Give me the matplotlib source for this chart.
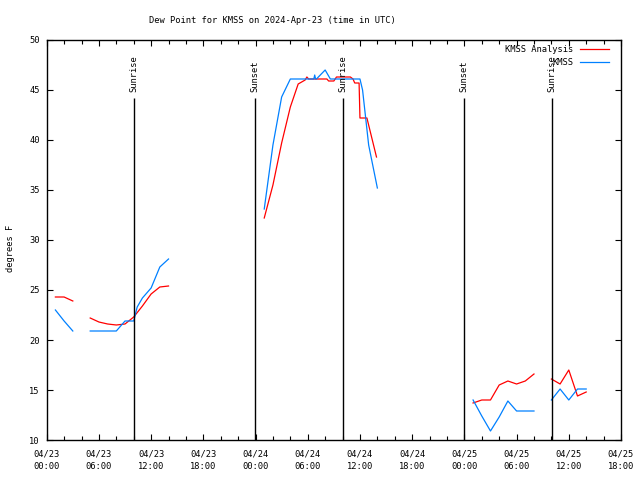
import matplotlib
matplotlib.use("Agg")
import matplotlib.pyplot as plt
from matplotlib.ticker import MultipleLocator

# hours since 2024-04-23 00:00 UTC
red1_t = [1, 2, 3]
red1_v = [24.3, 24.3, 23.9]
blue1_t = [1, 2, 3]
blue1_v = [23.0, 21.9, 20.9]

red2_t = [5, 6, 7, 8, 9, 10, 11, 12, 13, 14]
red2_v = [22.2, 21.8, 21.6, 21.5, 21.6, 22.3, 23.4, 24.6, 25.3, 25.4]
blue2_t = [5, 6, 7, 8, 9, 10, 10.4, 11, 12, 13, 14]
blue2_v = [20.9, 20.9, 20.9, 20.9, 21.9, 21.9, 23.3, 24.2, 25.2, 27.3, 28.1]

red3_t = [25, 26, 27, 28, 28.9, 29.7, 29.9, 30.1, 32.2, 32.4, 33.0, 33.3,
          34.9, 35.2, 35.4, 35.9, 36.0, 36.8, 37.9]
red3_v = [32.2, 35.5, 39.7, 43.3, 45.6, 46.0, 46.3, 46.1, 46.1, 45.9, 45.9, 46.3,
          46.3, 46.1, 45.7, 45.7, 42.2, 42.2, 38.3]
blue3_t = [25, 26, 27, 28, 29, 30, 30.7, 30.8, 30.9, 31, 32, 32.6,
           33, 34, 35, 36, 36.3, 37, 38]
blue3_v = [33.1, 39.5, 44.3, 46.1, 46.1, 46.1, 46.1, 46.5, 46.1, 46.1, 47.0, 46.1,
           46.1, 46.1, 46.1, 46.1, 45.0, 39.5, 35.2]

red4_t = [49, 50, 51, 52, 53, 54, 55, 56]
red4_v = [13.7, 14.0, 14.0, 15.5, 15.9, 15.6, 15.9, 16.6]
blue4_t = [49, 50, 51, 52, 53, 54, 55, 56]
blue4_v = [14.0, 12.4, 10.9, 12.3, 13.9, 12.9, 12.9, 12.9]

red5_t = [58, 59, 60, 61, 62]
red5_v = [16.1, 15.6, 17.0, 14.4, 14.8]
blue5_t = [58, 59, 60, 61, 62]
blue5_v = [14.0, 15.1, 14.0, 15.1, 15.1]

sun_t = [10.07, 23.93, 34.08, 47.9, 58.05]
sun_lbl = ["Sunrise", "Sunset", "Sunrise", "Sunset", "Sunrise"]

xtick_pos = [0, 6, 12, 18, 24, 30, 36, 42, 48, 54, 60, 66]
xtick_lbl = ["04/23\n00:00", "04/23\n06:00", "04/23\n12:00", "04/23\n18:00",
             "04/24\n00:00", "04/24\n06:00", "04/24\n12:00", "04/24\n18:00",
             "04/25\n00:00", "04/25\n06:00", "04/25\n12:00", "04/25\n18:00"]

plt.rcParams['font.family'] = ['DejaVu Sans Mono']
plt.rcParams['font.size'] = 6.3

fig = plt.figure(figsize=(6.4, 4.8), dpi=100)
ax = fig.add_axes([46.7 / 640, 40 / 480, 574.3 / 640, 400 / 480])

red = '#ff0000'
blue = '#0080ff'
lw = 0.9
ax.plot(red1_t, red1_v, color=red, lw=lw, label='KMSS Analysis')
ax.plot(blue1_t, blue1_v, color=blue, lw=lw, label='KMSS')
for t, v in [(red2_t, red2_v), (red3_t, red3_v), (red4_t, red4_v), (red5_t, red5_v)]:
    ax.plot(t, v, color=red, lw=lw)
for t, v in [(blue2_t, blue2_v), (blue3_t, blue3_v), (blue4_t, blue4_v), (blue5_t, blue5_v)]:
    ax.plot(t, v, color=blue, lw=lw)

ax.vlines(sun_t, 10, 44.2, color='black', lw=1)
for t, s in zip(sun_t, sun_lbl):
    ax.text(t, 44.8, s, rotation=90, ha='center', va='bottom')

ax.set_xlim(0, 66)
ax.set_ylim(10, 50)
ax.set_xticks(xtick_pos, xtick_lbl)
ax.xaxis.set_minor_locator(MultipleLocator(2))
ax.yaxis.set_major_locator(MultipleLocator(5))
for lab in ax.get_xticklabels():
    lab.set_linespacing(1.45)
ax.tick_params(which='both', direction='in', top=True, right=True, width=0.8)
ax.tick_params(which='major', length=4)
ax.tick_params(which='minor', length=3)
ax.tick_params(axis='x', pad=7)
ax.tick_params(axis='y', pad=5)
for sp in ax.spines.values():
    sp.set_linewidth(1)

fig.text(272 / 640, 1 - 20.5 / 480, "Dew Point for KMSS on 2024-Apr-23 (time in UTC)",
         ha='center', va='center')
fig.text(11 / 640, 1 - 248 / 480, "degrees F", rotation=90, ha='center', va='center')

ax.legend(loc='upper right', bbox_to_anchor=(0.9797, 0.987), frameon=False,
          markerfirst=False, borderpad=0, borderaxespad=0, handlelength=3.3,
          handletextpad=0.8, labelspacing=0.45)

fig.savefig('out.png', dpi=100)
